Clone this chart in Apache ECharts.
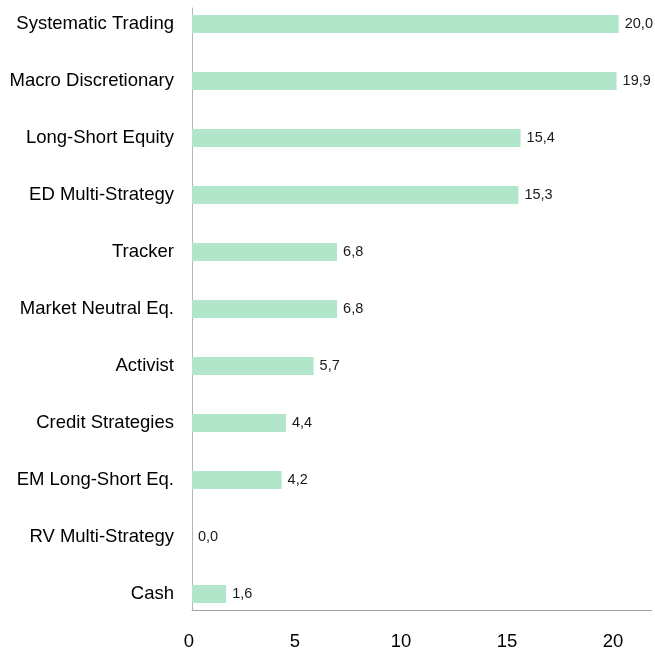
<!DOCTYPE html>
<html>
<head>
<meta charset="utf-8">
<script src="https://cdn.jsdelivr.net/npm/echarts@6/dist/echarts.min.js"></script>
<style>
  html, body { margin: 0; padding: 0; background: #fff; }
  #chart { width: 655px; height: 652px; }
</style>
</head>
<body>
<div id="chart"></div>
<script>
  // strategies, top to bottom
  var categories = ['Systematic Trading', 'Macro Discretionary', 'Long-Short Equity', 'ED Multi-Strategy',
    'Tracker', 'Market Neutral Eq.', 'Activist', 'Credit Strategies', 'EM Long-Short Eq.',
    'RV Multi-Strategy', 'Cash'];
  var values = [20.0, 19.9, 15.4, 15.3, 6.8, 6.8, 5.7, 4.4, 4.2, 0.0, 1.6];
  var xTicks = [0, 5, 10, 15, 20];

  var font = 'Liberation Sans, Arial, sans-serif';
  var xMax = 21.7;

  var myChart = echarts.init(document.getElementById('chart'));
  var option = {
    animation: false,
    grid: [
      // frame: axis lines
      { left: 192, right: 0, top: 8, bottom: 42 },
      // bars
      { left: 192, right: 0, top: 24, bottom: 58 }
    ],
    xAxis: [
      {
        gridIndex: 0, type: 'value', min: 0, max: xMax, interval: 5,
        axisLine: { show: true, lineStyle: { color: '#a6a6a6', width: 1 } },
        axisTick: { show: false },
        splitLine: { show: false },
        axisLabel: {
          margin: 22, color: '#000', fontSize: 18.5, fontFamily: font, padding: [0, 6, 0, 0],
          formatter: function (v) { return xTicks.indexOf(v) >= 0 ? String(v) : ''; }
        }
      },
      {
        gridIndex: 1, type: 'value', min: 0, max: xMax, show: false
      }
    ],
    yAxis: [
      {
        gridIndex: 0, type: 'value', min: 0, max: 1,
        axisLine: { show: true, lineStyle: { color: '#b5b5b5', width: 1 } },
        axisTick: { show: false }, axisLabel: { show: false }, splitLine: { show: false }
      },
      {
        gridIndex: 1, type: 'category', data: categories, inverse: true, boundaryGap: false,
        axisLine: { show: false }, axisTick: { show: false },
        axisLabel: { margin: 18, color: '#000', fontSize: 18.5, fontFamily: font }
      }
    ],
    series: [{
      type: 'bar', xAxisIndex: 1, yAxisIndex: 1,
      data: values, barWidth: 18,
      itemStyle: { color: '#b2e6cb' },
      label: {
        show: true, position: 'right', distance: 6,
        color: '#1a1a1a', fontSize: 14.5, fontFamily: font,
        formatter: function (p) { return p.value.toFixed(1).replace('.', ','); }
      }
    }]
  };
  myChart.setOption(option);
</script>
</body>
</html>
